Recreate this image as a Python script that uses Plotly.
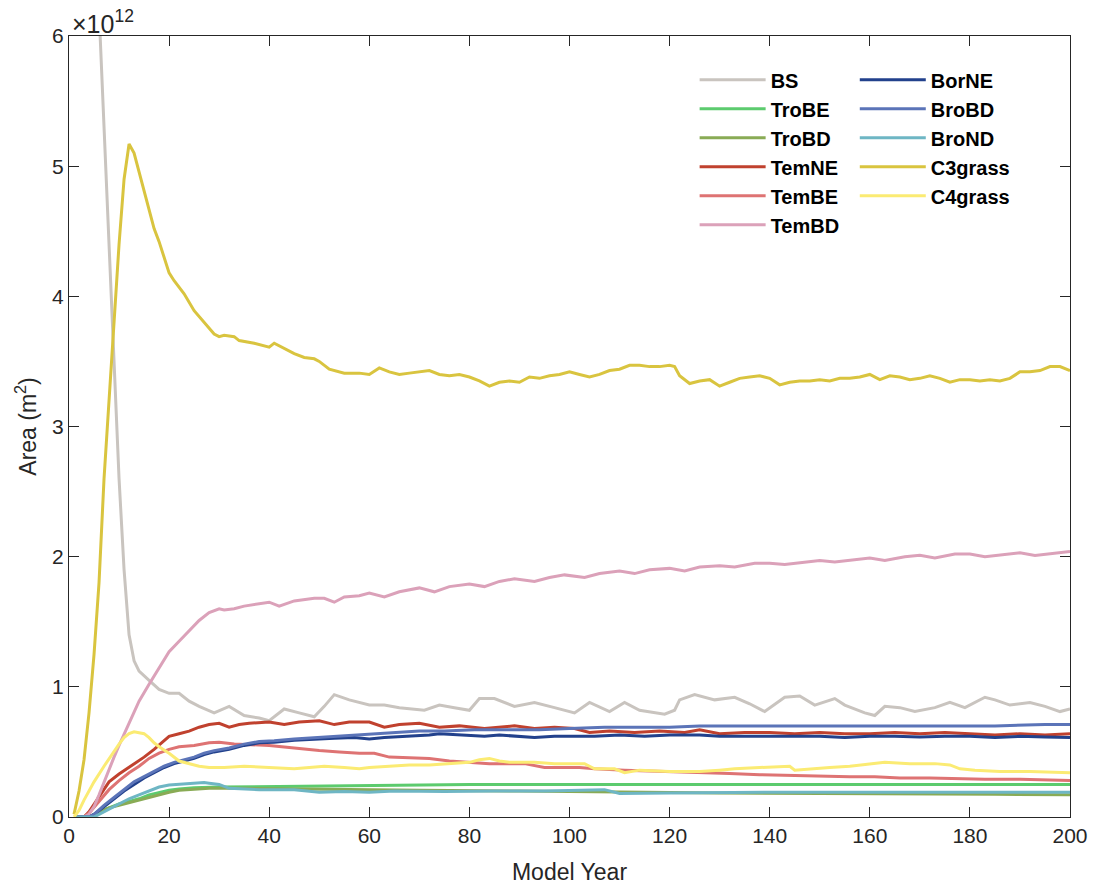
import plotly.graph_objects as go

# ---- data (area in units of 1e12 m^2) ----
bs_x = [1, 3, 5, 6, 7, 8, 9, 10, 11, 12, 13, 14, 16, 18, 20, 22, 24, 26, 29, 32, 35, 38, 40, 43, 46, 49, 51, 53, 56, 58, 60, 63, 66, 71, 74, 77, 80, 82, 85, 89, 93, 97, 101, 104, 108, 111, 114, 119, 121, 122, 125, 129, 133, 136, 139, 143, 146, 149, 153, 155, 159, 161, 163, 166, 169, 173, 176, 179, 183, 185, 188, 192, 195, 198, 200]
bs_y = [8.3, 8.0, 7.1, 6.2, 5.3, 4.4, 3.5, 2.6, 1.9, 1.4, 1.2, 1.12, 1.05, 0.98, 0.95, 0.95, 0.89, 0.85, 0.80, 0.85, 0.78, 0.76, 0.74, 0.83, 0.80, 0.77, 0.85, 0.94, 0.90, 0.88, 0.86, 0.86, 0.84, 0.82, 0.86, 0.84, 0.82, 0.91, 0.91, 0.85, 0.88, 0.84, 0.80, 0.88, 0.81, 0.88, 0.82, 0.79, 0.82, 0.90, 0.94, 0.90, 0.92, 0.87, 0.81, 0.92, 0.93, 0.86, 0.91, 0.86, 0.80, 0.78, 0.85, 0.84, 0.81, 0.84, 0.88, 0.84, 0.92, 0.90, 0.86, 0.88, 0.85, 0.81, 0.83]

trobe_x = [1, 4, 6, 8, 10, 12, 14, 16, 18, 20, 22, 25, 30, 40, 50, 60, 80, 100, 120, 140, 160, 180, 200]
trobe_y = [0, 0, 0.04, 0.07, 0.10, 0.12, 0.14, 0.17, 0.19, 0.205, 0.215, 0.225, 0.23, 0.235, 0.24, 0.245, 0.25, 0.25, 0.25, 0.25, 0.25, 0.25, 0.25]

trobd_x = [1, 4, 6, 8, 10, 12, 14, 16, 18, 20, 22, 25, 28, 35, 45, 55, 70, 90, 110, 130, 150, 170, 185, 200]
trobd_y = [0, 0, 0.04, 0.07, 0.09, 0.11, 0.13, 0.15, 0.175, 0.19, 0.205, 0.215, 0.22, 0.22, 0.215, 0.21, 0.205, 0.20, 0.19, 0.185, 0.18, 0.18, 0.175, 0.17]

temne_x = [1, 3, 4, 5, 6, 7, 8, 10, 12, 13, 15, 17, 19, 20, 22, 24, 26, 28, 30, 32, 34, 36, 40, 43, 46, 50, 53, 56, 60, 63, 66, 70, 74, 78, 83, 89, 93, 97, 101, 104, 108, 113, 118, 123, 126, 130, 135, 140, 145, 150, 155, 160, 165, 170, 175, 180, 185, 190, 195, 200]
temne_y = [0, 0, 0.04, 0.10, 0.16, 0.22, 0.27, 0.33, 0.38, 0.41, 0.46, 0.52, 0.59, 0.62, 0.64, 0.66, 0.69, 0.71, 0.72, 0.69, 0.71, 0.72, 0.73, 0.71, 0.73, 0.74, 0.71, 0.73, 0.73, 0.69, 0.71, 0.72, 0.69, 0.70, 0.68, 0.70, 0.68, 0.69, 0.68, 0.65, 0.66, 0.65, 0.66, 0.65, 0.67, 0.64, 0.65, 0.65, 0.64, 0.65, 0.64, 0.64, 0.65, 0.64, 0.65, 0.64, 0.63, 0.64, 0.63, 0.64]

tembe_x = [1, 3, 4, 6, 8, 10, 12, 14, 16, 18, 20, 22, 25, 28, 30, 33, 36, 40, 45, 50, 54, 58, 61, 64, 68, 72, 76, 80, 84, 91, 95, 102, 105, 111, 116, 121, 126, 132, 138, 143, 150, 156, 161, 166, 172, 178, 183, 190, 195, 200]
tembe_y = [0, 0, 0.03, 0.12, 0.21, 0.28, 0.34, 0.39, 0.45, 0.49, 0.52, 0.54, 0.55, 0.57, 0.575, 0.56, 0.555, 0.55, 0.53, 0.51, 0.50, 0.49, 0.49, 0.46, 0.455, 0.45, 0.43, 0.42, 0.41, 0.41, 0.38, 0.38, 0.37, 0.36, 0.355, 0.35, 0.345, 0.335, 0.325, 0.32, 0.315, 0.31, 0.31, 0.30, 0.30, 0.295, 0.29, 0.29, 0.285, 0.28]

tembd_x = [1, 3, 4, 5, 6, 7, 8, 9, 10, 12, 14, 16, 18, 20, 22, 24, 26, 28, 30, 31, 33, 35, 38, 40, 42, 45, 49, 51, 53, 55, 58, 60, 63, 66, 70, 73, 76, 80, 83, 86, 89, 93, 96, 99, 103, 106, 110, 113, 116, 120, 123, 126, 130, 133, 137, 140, 143, 147, 150, 153, 157, 160, 163, 167, 170, 173, 177, 180, 183, 187, 190, 193, 197, 200]
tembd_y = [0, 0, 0.02, 0.08, 0.17, 0.27, 0.36, 0.46, 0.55, 0.72, 0.89, 1.02, 1.15, 1.27, 1.35, 1.43, 1.51, 1.57, 1.60, 1.59, 1.60, 1.62, 1.64, 1.65, 1.62, 1.66, 1.68, 1.68, 1.65, 1.69, 1.70, 1.72, 1.69, 1.73, 1.76, 1.73, 1.77, 1.79, 1.77, 1.81, 1.83, 1.81, 1.84, 1.86, 1.84, 1.87, 1.89, 1.87, 1.90, 1.91, 1.89, 1.92, 1.93, 1.92, 1.95, 1.95, 1.94, 1.96, 1.97, 1.96, 1.98, 1.99, 1.97, 2.00, 2.01, 1.99, 2.02, 2.02, 2.00, 2.02, 2.03, 2.01, 2.03, 2.04]

borne_x = [1, 4, 5, 7, 9, 11, 13, 15, 17, 19, 21, 23, 25, 27, 29, 32, 35, 38, 41, 45, 49, 53, 57, 60, 63, 68, 72, 74, 78, 83, 86, 90, 93, 97, 101, 105, 110, 115, 120, 126, 130, 135, 140, 145, 150, 155, 160, 165, 170, 175, 180, 185, 190, 195, 200]
borne_y = [0, 0, 0.02, 0.08, 0.14, 0.20, 0.25, 0.30, 0.34, 0.38, 0.41, 0.43, 0.45, 0.48, 0.50, 0.52, 0.55, 0.57, 0.575, 0.59, 0.60, 0.605, 0.61, 0.60, 0.61, 0.62, 0.63, 0.64, 0.63, 0.62, 0.63, 0.62, 0.61, 0.62, 0.62, 0.62, 0.63, 0.62, 0.63, 0.63, 0.62, 0.62, 0.615, 0.62, 0.62, 0.61, 0.62, 0.62, 0.615, 0.62, 0.62, 0.61, 0.62, 0.615, 0.61]

brobd_x = [1, 4, 5, 7, 9, 11, 13, 15, 17, 19, 21, 23, 25, 27, 29, 32, 35, 38, 41, 45, 49, 53, 57, 60, 64, 70, 75, 81, 88, 94, 100, 107, 113, 120, 126, 135, 145, 155, 165, 175, 185, 195, 200]
brobd_y = [0, 0, 0.02, 0.09, 0.15, 0.21, 0.27, 0.31, 0.35, 0.39, 0.42, 0.44, 0.46, 0.49, 0.51, 0.53, 0.56, 0.58, 0.585, 0.60, 0.61, 0.62, 0.63, 0.64, 0.65, 0.66, 0.66, 0.67, 0.67, 0.67, 0.68, 0.69, 0.69, 0.69, 0.70, 0.70, 0.70, 0.70, 0.70, 0.705, 0.70, 0.71, 0.71]

brond_x = [1, 5, 6, 8, 10, 12, 14, 16, 18, 20, 22, 24, 27, 28, 30, 32, 35, 38, 45, 50, 55, 60, 65, 75, 85, 95, 107, 110, 120, 130, 140, 150, 160, 170, 180, 190, 200]
brond_y = [0, 0, 0.02, 0.06, 0.10, 0.14, 0.17, 0.20, 0.23, 0.245, 0.25, 0.26, 0.265, 0.26, 0.25, 0.22, 0.215, 0.21, 0.21, 0.19, 0.195, 0.19, 0.20, 0.195, 0.20, 0.20, 0.21, 0.18, 0.185, 0.19, 0.19, 0.19, 0.19, 0.19, 0.19, 0.185, 0.19]

c3_x = [1, 2, 3, 4, 5, 6, 7, 8, 9, 10, 11, 12, 13, 14, 16, 17, 18, 20, 21, 23, 25, 27, 29, 30, 31, 33, 34, 37, 40, 41, 43, 45, 47, 49, 50, 52, 55, 58, 60, 62, 64, 66, 68, 70, 72, 74, 76, 78, 80, 82, 84, 86, 88, 90, 92, 94, 96, 98, 100, 102, 104, 106, 108, 110, 112, 114, 116, 118, 120, 121, 122, 124, 126, 128, 130, 132, 134, 136, 138, 140, 142, 144, 146, 148, 150, 152, 154, 156, 158, 160, 162, 164, 166, 168, 170, 172, 174, 176, 178, 180, 182, 184, 186, 188, 190, 192, 194, 196, 198, 200]
c3_y = [0.02, 0.2, 0.44, 0.8, 1.25, 1.8, 2.6, 3.2, 3.75, 4.4, 4.9, 5.17, 5.1, 4.95, 4.66, 4.52, 4.42, 4.18, 4.12, 4.02, 3.89, 3.80, 3.71, 3.69, 3.70, 3.69, 3.66, 3.64, 3.61, 3.64, 3.60, 3.56, 3.53, 3.52, 3.50, 3.44, 3.41, 3.41, 3.40, 3.45, 3.42, 3.40, 3.41, 3.42, 3.43, 3.40, 3.39, 3.40, 3.38, 3.35, 3.31, 3.34, 3.35, 3.34, 3.38, 3.37, 3.39, 3.40, 3.42, 3.40, 3.38, 3.40, 3.43, 3.44, 3.47, 3.47, 3.46, 3.46, 3.47, 3.46, 3.39, 3.33, 3.35, 3.36, 3.31, 3.34, 3.37, 3.38, 3.39, 3.37, 3.32, 3.34, 3.35, 3.35, 3.36, 3.35, 3.37, 3.37, 3.38, 3.40, 3.36, 3.39, 3.38, 3.36, 3.37, 3.39, 3.37, 3.34, 3.36, 3.36, 3.35, 3.36, 3.35, 3.37, 3.42, 3.42, 3.43, 3.46, 3.46, 3.43]

c4_x = [1, 2, 3, 5, 7, 8, 10, 11, 12, 13, 14, 15, 16, 17, 18, 20, 22, 24, 26, 28, 31, 35, 40, 45, 48, 51, 55, 58, 60, 64, 68, 72, 76, 80, 82, 84, 86, 88, 93, 97, 101, 103, 105, 109, 111, 114, 120, 126, 130, 133, 138, 144, 145, 148, 152, 156, 160, 163, 168, 173, 176, 178, 181, 186, 192, 200]
c4_y = [0, 0.05, 0.13, 0.27, 0.39, 0.45, 0.56, 0.61, 0.64, 0.655, 0.65, 0.64, 0.61, 0.57, 0.54, 0.49, 0.43, 0.41, 0.39, 0.38, 0.38, 0.39, 0.38, 0.37, 0.38, 0.39, 0.38, 0.37, 0.38, 0.39, 0.40, 0.40, 0.41, 0.42, 0.44, 0.45, 0.43, 0.42, 0.42, 0.41, 0.41, 0.41, 0.37, 0.37, 0.34, 0.36, 0.35, 0.35, 0.36, 0.37, 0.38, 0.39, 0.36, 0.37, 0.38, 0.39, 0.41, 0.42, 0.41, 0.41, 0.40, 0.37, 0.36, 0.35, 0.35, 0.34]

names = ["BS", "TroBE", "TroBD", "TemNE", "TemBE", "TemBD",
         "BorNE", "BroBD", "BroND", "C3grass", "C4grass"]
xs = [bs_x, trobe_x, trobd_x, temne_x, tembe_x, tembd_x, borne_x, brobd_x, brond_x, c3_x, c4_x]
ys = [bs_y, trobe_y, trobd_y, temne_y, tembe_y, tembd_y, borne_y, brobd_y, brond_y, c3_y, c4_y]
colors = ["#C9C4BF", "#5CCB6E", "#89AB55", "#C0412E", "#DE7373", "#DBA1B9",
          "#22418C", "#5B74B8", "#6EB6C4", "#D9C43F", "#FBEB73"]
legends = ["legend"] * 6 + ["legend2"] * 5

SCALE = 1e12
fig = go.Figure()
for n, x, y, c, lg in zip(names, xs, ys, colors, legends):
    fig.add_trace(go.Scatter(
        x=x, y=[v * SCALE for v in y], mode="lines", name=n,
        line=dict(color=c, width=3), legend=lg))

font_color = "#262626"
axis_common = dict(
    showline=True, linecolor=font_color, linewidth=1, mirror="ticks",
    ticks="inside", ticklen=10, tickcolor=font_color, tickwidth=1,
    showgrid=False, zeroline=False,
    tickfont=dict(family="Liberation Sans, Arial", size=21, color=font_color),
)

legend_font = dict(family="Liberation Sans, Arial", size=20, color="black", weight="bold")

fig.update_layout(
    width=1093, height=886,
    margin=dict(l=69, r=23, t=36, b=69, autoexpand=False),
    paper_bgcolor="white", plot_bgcolor="white",
    font=dict(family="Liberation Sans, Arial", color=font_color),
    xaxis=dict(range=[0, 200], tickvals=list(range(0, 201, 20)),
               title=dict(text="Model Year", standoff=17,
                          font=dict(size=23, color=font_color)),
               **axis_common),
    yaxis=dict(range=[0, 6 * SCALE], tickvals=[i * SCALE for i in range(7)],
               ticktext=[str(i) for i in range(7)],
               title=dict(text="Area (m<sup>2</sup>)", standoff=9,
                          font=dict(size=23, color=font_color)),
               **axis_common),
    legend=dict(x=0.625, y=0.969, xanchor="left", yanchor="top",
                bgcolor="rgba(0,0,0,0)", tracegroupgap=0, itemwidth=66,
                font=legend_font),
    legend2=dict(x=0.785, y=0.969, xanchor="left", yanchor="top",
                 bgcolor="rgba(0,0,0,0)", tracegroupgap=0, itemwidth=66,
                 font=legend_font),
    annotations=[dict(text="\u00d710<sup>12</sup>", x=0, y=1, xref="paper", yref="paper",
                      xanchor="left", yanchor="bottom", showarrow=False,
                      xshift=1, yshift=-4, font=dict(size=25, color=font_color))],
)

fig.write_html("out.html")
